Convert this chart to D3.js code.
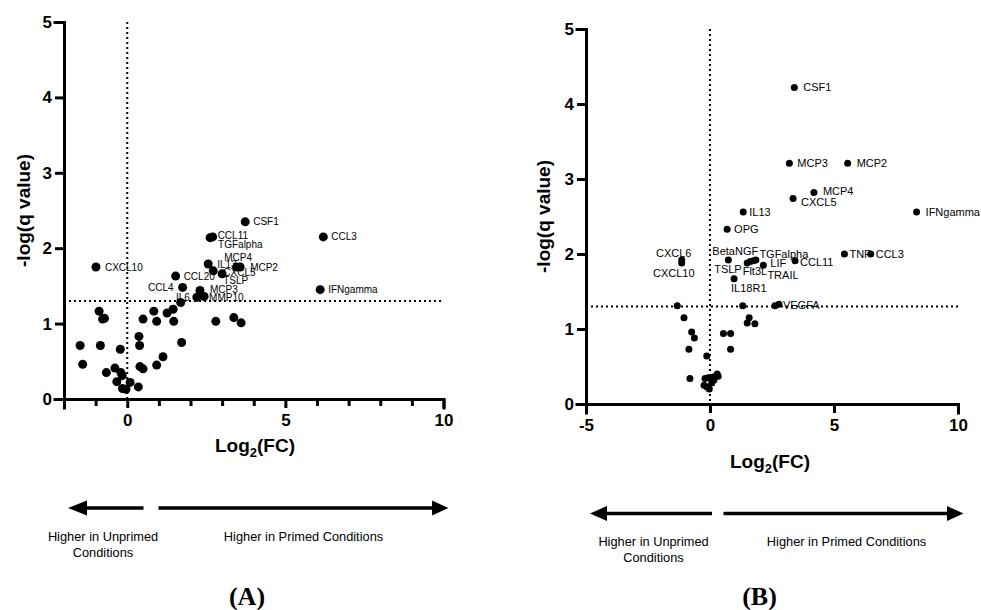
<!DOCTYPE html>
<html>
<head>
<meta charset="utf-8">
<script src="https://cdn.jsdelivr.net/npm/d3@7"></script>
<style>
  body { margin: 0; background: #fff; }
  svg { display: block; }
  text { font-family: "Liberation Sans", Arial, sans-serif; fill: #000; }
</style>
</head>
<body>
<div id="chart"></div>
<script>
// Panel A : genes, log2 fold change, -log(q)
const namesA = ["CSF1", "CCL11", "TGFalpha", "CCL3", "IL13", "MCP4", "MCP2", "CXCL5", "TSLP",
  "CXCL10", "CCL20", "CCL4", "MCP3", "IL6", "MMP10", "IFNgamma",
  "", "", "", "", "", "", "", "", "", "", "", "", "", "", "", "", "",
  "", "", "", "", "", "", "", "", "", "", "", "", "", "", "", ""];
const fcA = [3.73, 2.70, 2.62, 6.20, 2.56, 3.46, 3.57, 2.72, 3.00,
  -0.99, 1.53, 1.75, 2.30, 2.20, 2.43, 6.10,
  1.69, -0.89, -0.78, -0.72, -1.49, -0.85, -1.41, -0.22, -0.66, -0.39, -0.20, -0.16, -0.33, -0.15, -0.04, 0.09, 0.35,
  0.37, 0.39, 0.40, 0.50, 0.50, 0.84, 0.93, 0.93, 1.13, 1.26, 1.45, 1.47, 1.72, 2.80, 3.37, 3.60];
const qA = [2.35, 2.15, 2.14, 2.15, 1.79, 1.75, 1.75, 1.70, 1.66,
  1.75, 1.63, 1.48, 1.44, 1.35, 1.36, 1.45,
  1.28, 1.165, 1.06, 1.07, 0.71, 0.71, 0.46, 0.66, 0.35, 0.41, 0.35, 0.31, 0.23, 0.14, 0.13, 0.22, 0.16,
  0.83, 0.71, 0.43, 0.40, 1.06, 1.165, 1.03, 0.45, 0.56, 1.14, 1.19, 1.03, 0.75, 1.03, 1.08, 1.01];

// Panel B
const namesB = ["CSF1", "MCP3", "MCP2", "MCP4", "CXCL5", "IFNgamma", "IL13", "OPG", "TNF", "CCL3",
  "CXCL6", "CXCL10", "BetaNGF", "TSLP", "Flt3L", "TRAIL", "TGFalpha", "LIF", "CCL11", "IL18R1", "VEGFA",
  "", "", "", "", "", "", "", "", "", "", "", "", "", "", "", "", "", "", "", "", "", "", "", "", ""];
const fcB = [3.40, 3.20, 5.55, 4.19, 3.35, 8.33, 1.34, 0.69, 5.42, 6.48,
  -1.14, -1.14, 0.74, 1.50, 1.62, 1.75, 1.85, 2.15, 3.43, 0.97, 2.78,
  2.62, -1.32, 1.32, -1.05, 1.58, 1.50, 1.81, -0.74, -0.63, 0.54, 0.83, -0.85, 0.83, -0.13,
  -0.81, -0.20, -0.07, 0.13, 0.29, 0.33, -0.24, -0.13, -0.03, 0.07, 0.16];
const qB = [4.22, 3.21, 3.21, 2.82, 2.74, 2.56, 2.56, 2.33, 2.00, 2.00,
  1.92, 1.88, 1.92, 1.88, 1.90, 1.91, 1.92, 1.85, 1.91, 1.67, 1.33,
  1.31, 1.31, 1.31, 1.15, 1.15, 1.08, 1.07, 0.96, 0.88, 0.94, 0.94, 0.73, 0.73, 0.64,
  0.34, 0.34, 0.35, 0.36, 0.40, 0.37, 0.25, 0.23, 0.20, 0.28, 0.32];

// Axis ticks and threshold
const yTicks = [0, 1, 2, 3, 4, 5];
const xTicksA = [-1, 0, 1, 2, 3, 4, 5, 6, 7, 8, 9, 10];
const xLabelsA = [0, 5, 10];
const xTicksB = [-5, 0, 5, 10];
const qThreshold = 1.3;

// Label placement (dx, dy, anchor) relative to the point
const labelPosA = {
  CSF1: [8, 0], CCL11: [5, -1], TGFalpha: [8, 6.5], CCL3: [8, 0], IL13: [9, 0],
  MCP4: [1.5, -10, "middle"], MCP2: [10, 0], CXCL5: [10, 2], TSLP: [1, 7],
  CXCL10: [9, 0], CCL20: [8, 0], CCL4: [-9, 0, "end"], MCP3: [10, -1],
  IL6: [-7, 0, "end"], MMP10: [5, 1], IFNgamma: [8, 0]
};
const labelPosB = {
  CSF1: [9, 0], MCP3: [8, 0], MCP2: [9, 0], MCP4: [9, -1], CXCL5: [8, 4],
  IFNgamma: [9, 0], IL13: [6, 0], OPG: [7, 0], TNF: [5, 0], CCL3: [5, 0],
  CXCL6: [-8, -7, "middle"], CXCL10: [-8, 10, "middle"], BetaNGF: [-16, -9],
  TSLP: [-5.5, 6, "end"], Flt3L: [-7.5, 10], TRAIL: [14, 14], TGFalpha: [3.5, -6],
  LIF: [7, -2.5], CCL11: [5, 1], IL18R1: [-3, 9.5], VEGFA: [4, 1]
};

const svg = d3.select("#chart").append("svg")
  .attr("width", 981).attr("height", 610);

/**
* Draw one volcano panel
* @param p (Object): layout and data of the panel
*/
function drawPanel(p) {
  const x = d3.scaleLinear().domain(p.xDomain).range(p.xRange);
  const y = d3.scaleLinear().domain([0, 5]).range(p.yRange);
  const g = svg.append("g");

  const pts = p.names.map((n, i) => ({name: n, fc: p.fc[i], q: p.q[i]}));

  // dotted guide lines
  g.append("line")
    .attr("x1", x(0)).attr("x2", x(0))
    .attr("y1", y(5)).attr("y2", y(0))
    .attr("stroke", "#000").attr("stroke-width", 2).attr("stroke-dasharray", "2,3");
  g.append("line")
    .attr("x1", x(p.xDomain[0])).attr("x2", x(p.xDomain[1]))
    .attr("y1", y(qThreshold)).attr("y2", y(qThreshold))
    .attr("stroke", "#000").attr("stroke-width", 2).attr("stroke-dasharray", "2,3");

  // labels (drawn under the points)
  g.selectAll("text.lbl").data(pts.filter(d => d.name)).enter()
    .append("text")
    .attr("class", "lbl")
    .attr("x", d => x(d.fc) + p.labelPos[d.name][0])
    .attr("y", d => y(d.q) + p.labelPos[d.name][1])
    .attr("dy", "0.35em")
    .attr("text-anchor", d => p.labelPos[d.name][2] || "start")
    .style("font-size", p.labelSize + "px")
    .text(d => d.name);

  g.selectAll("circle").data(pts).enter()
    .append("circle")
    .attr("cx", d => x(d.fc))
    .attr("cy", d => y(d.q))
    .attr("r", p.r)
    .attr("fill", "#000");

  // axes
  const xAxis = d3.axisBottom(x).tickValues(p.xTicks).tickSizeOuter(0).tickSize(9).tickPadding(6)
    .tickFormat(d => p.xLabels.includes(d) ? d : "");
  const gx = g.append("g").attr("transform", `translate(0,${y(0)})`).call(xAxis);
  gx.selectAll(".tick line").filter(d => !p.xLabels.includes(d)).attr("y2", 7);

  const yAxis = d3.axisLeft(y).tickValues(yTicks).tickSizeOuter(0).tickSize(9).tickPadding(3)
    .tickFormat(d3.format("d"));
  const gy = g.append("g").attr("transform", `translate(${x(p.xDomain[0])},0)`).call(yAxis);

  [gx, gy].forEach(a => {
    a.select(".domain").attr("stroke-width", 3).attr("stroke-linecap", "square");
    a.selectAll(".tick line").attr("stroke-width", 3);
    a.selectAll(".tick text")
      .style("font-size", "17px").style("font-weight", "bold")
      .style("font-family", "'Liberation Sans', Arial, sans-serif");
  });

  // axis titles
  g.append("text")
    .attr("transform", `translate(${p.yTitleX},${(p.yRange[0] + p.yRange[1]) / 2}) rotate(-90)`)
    .attr("text-anchor", "middle").attr("dy", "0.35em")
    .style("font-size", "19px").style("font-weight", "bold")
    .text("-log(q value)");
  const xt = g.append("text")
    .attr("x", p.xTitleX).attr("y", p.xTitleY)
    .attr("text-anchor", "middle")
    .style("font-size", "19px").style("font-weight", "bold");
  xt.append("tspan").text("Log");
  xt.append("tspan").attr("dy", 5).style("font-size", "13px").text("2");
  xt.append("tspan").attr("dy", -5).text("(FC)");

  // direction arrows
  const a = p.arrows;
  const arrowG = g.append("g");
  arrowG.append("line").attr("x1", a.leftBase).attr("x2", a.leftEnd)
    .attr("y1", a.y).attr("y2", a.y).attr("stroke", "#000").attr("stroke-width", 3.5);
  arrowG.append("path")
    .attr("d", `M${a.leftTip},${a.y}L${a.leftBase},${a.y - 7.5}L${a.leftBase},${a.y + 7.5}Z`);
  arrowG.append("line").attr("x1", a.rightStart).attr("x2", a.rightBase)
    .attr("y1", a.y).attr("y2", a.y).attr("stroke", "#000").attr("stroke-width", 3.5);
  arrowG.append("path")
    .attr("d", `M${a.rightTip},${a.y}L${a.rightBase},${a.y - 7.5}L${a.rightBase},${a.y + 7.5}Z`);

  const t1 = g.append("text").attr("x", a.unprimedX).attr("y", a.textY)
    .attr("text-anchor", "middle").style("font-size", "12.8px");
  t1.append("tspan").attr("x", a.unprimedX).text("Higher in Unprimed");
  t1.append("tspan").attr("x", a.unprimedX).attr("dy", 15.5).text("Conditions");
  g.append("text").attr("x", a.primedX).attr("y", a.textY)
    .attr("text-anchor", "middle").style("font-size", "12.8px")
    .text("Higher in Primed Conditions");

  g.append("text").attr("x", p.tagX).attr("y", 605)
    .attr("text-anchor", "middle")
    .style("font-family", "'Liberation Serif', 'Times New Roman', serif")
    .style("font-size", "26px").style("font-weight", "bold")
    .text(p.tag);
}

drawPanel({
  names: namesA, fc: fcA, q: qA, labelPos: labelPosA,
  xDomain: [-2, 10], xRange: [64, 443.5], yRange: [399, 22],
  xTicks: xTicksA, xLabels: xLabelsA, r: 4.5, labelSize: 10,
  yTitleX: 23, xTitleX: 255, xTitleY: 452,
  arrows: {y: 508, leftTip: 68, leftBase: 87, leftEnd: 143.5, rightStart: 158.5,
    rightBase: 432, rightTip: 448.5, textY: 541, unprimedX: 103, primedX: 303.5},
  tagX: 247, tag: "(A)"
});

drawPanel({
  names: namesB, fc: fcB, q: qB, labelPos: labelPosB,
  xDomain: [-5, 10], xRange: [586, 958], yRange: [404, 29],
  xTicks: xTicksB, xLabels: xTicksB, r: 3.5, labelSize: 11,
  yTitleX: 543, xTitleX: 770, xTitleY: 468,
  arrows: {y: 513.5, leftTip: 590, leftBase: 607, leftEnd: 712, rightStart: 723.5,
    rightBase: 947, rightTip: 963.5, textY: 546, unprimedX: 653.5, primedX: 846.5},
  tagX: 759.5, tag: "(B)"
});
</script>
</body>
</html>
